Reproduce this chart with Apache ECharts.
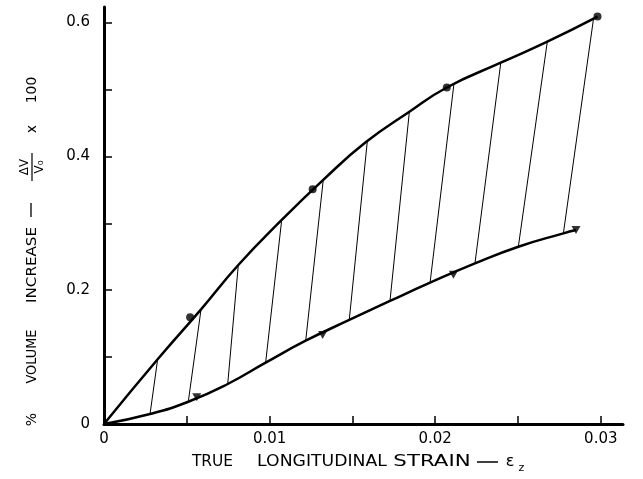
<!DOCTYPE html>
<html>
<head>
<meta charset="utf-8">
<script src="https://cdn.jsdelivr.net/npm/echarts@6/dist/echarts.min.js"></script>
<style>
  html, body { margin: 0; padding: 0; background: #fff; }
  #chart { width: 643px; height: 479px; }
</style>
</head>
<body>
<div id="chart"></div>
<script>
// Upper curve: % volume increase vs true longitudinal strain (circle series)
const upperCurveX = [0, 0.00324, 0.00586, 0.00811, 0.01073, 0.01324, 0.0158, 0.01844, 0.0207, 0.02396, 0.02677, 0.0298];
const upperCurveY = [0, 0.0967, 0.1714, 0.2377, 0.305, 0.365, 0.421, 0.4668, 0.503, 0.540, 0.5715, 0.609];
const circleX = [0.0052, 0.0126, 0.0207, 0.0298];
const circleY = [0.1595, 0.351, 0.503, 0.609];

// Lower curve (triangle series)
const lowerCurveX = [0, 0.00278, 0.00509, 0.00747, 0.00976, 0.01218, 0.01481, 0.01727, 0.01969, 0.0224, 0.02502, 0.02774, 0.0285];
const lowerCurveY = [0, 0.0149, 0.0333, 0.0598, 0.0917, 0.1245, 0.1555, 0.1839, 0.2112, 0.240, 0.265, 0.285, 0.290];
const triangleX = [0.0056, 0.0132, 0.0211, 0.0285];
const triangleY = [0.040, 0.133, 0.223, 0.290];

// Hatch lines joining the two curves
const hatchLowX = [0.00278, 0.00509, 0.00747, 0.00976, 0.01218, 0.01481, 0.01727, 0.01969, 0.0224, 0.02502, 0.02774];
const hatchLowY = [0.0149, 0.0333, 0.0598, 0.0917, 0.1245, 0.1555, 0.1839, 0.2112, 0.240, 0.265, 0.285];
const hatchHighX = [0.00324, 0.00586, 0.00811, 0.01073, 0.01324, 0.0159, 0.01844, 0.02113, 0.02396, 0.02677, 0.02955];
const hatchHighY = [0.0967, 0.1714, 0.2377, 0.305, 0.365, 0.4225, 0.4668, 0.508, 0.540, 0.5715, 0.604];

// Axis ticks and labels
const xTickValues = [0.005, 0.01, 0.015, 0.02, 0.025, 0.03];
const xLabelValues = [0, 0.01, 0.02, 0.03];
const xLabelText = ['0', '0.01', '0.02', '0.03'];
const yTickValues = [0.1, 0.2, 0.3, 0.4, 0.5, 0.6];
const yLabelValues = [0, 0.2, 0.4, 0.6];
const yLabelText = ['0', '0.2', '0.4', '0.6'];

const FONT = 'DejaVu Sans';
const pairs = (xs, ys) => xs.map((x, i) => [x, ys[i]]);
const labelFor = (vals, texts) => v => {
  const i = vals.findIndex(t => Math.abs(t - v) < 1e-9);
  return i >= 0 ? texts[i] : '';
};

const chart = echarts.init(document.getElementById('chart'), null, { renderer: 'canvas' });

const txt = (x, y, text, size, scaleX) => ({
  type: 'text', x: x, y: y, scaleX: scaleX || 1,
  style: {
    text: text, fontSize: size, fontFamily: FONT, fill: '#000',
    align: 'center', verticalAlign: 'middle'
  }
});

chart.setOption({
  animation: false,
  backgroundColor: '#fff',
  grid: { left: 104, top: 7, width: 519, height: 417 },
  xAxis: {
    type: 'value', min: 0, max: 0.03134,
    axisLine: { show: true, onZero: false, lineStyle: { color: '#000', width: 3 } },
    axisTick: { show: true, inside: true, length: 8, customValues: xTickValues, lineStyle: { color: '#000', width: 1.5 } },
    axisLabel: {
      customValues: xLabelValues, formatter: labelFor(xLabelValues, xLabelText),
      color: '#000', fontFamily: FONT, fontSize: 15, margin: 8
    },
    splitLine: { show: false }
  },
  yAxis: {
    type: 'value', min: 0, max: 0.6233,
    axisLine: { show: true, onZero: false, lineStyle: { color: '#000', width: 3 } },
    axisTick: { show: true, inside: true, length: 8, customValues: yTickValues, lineStyle: { color: '#000', width: 1.5 } },
    axisLabel: {
      customValues: yLabelValues, formatter: labelFor(yLabelValues, yLabelText),
      color: '#000', fontFamily: FONT, fontSize: 15, margin: 14
    },
    splitLine: { show: false }
  },
  series: [
    {
      type: 'lines', coordinateSystem: 'cartesian2d', silent: true, z: 1,
      lineStyle: { color: '#000', width: 1, opacity: 1 },
      data: hatchLowX.map((x, i) => ({ coords: [[x, hatchLowY[i]], [hatchHighX[i], hatchHighY[i]]] }))
    },
    {
      type: 'line', data: pairs(upperCurveX, upperCurveY), showSymbol: false, smooth: 0.5,
      lineStyle: { color: '#000', width: 2.5 }, z: 2
    },
    {
      type: 'line', data: pairs(lowerCurveX, lowerCurveY), showSymbol: false, smooth: 0.5,
      lineStyle: { color: '#000', width: 2.5 }, z: 2
    },
    {
      type: 'scatter', data: pairs(circleX, circleY), symbol: 'circle', symbolSize: 8,
      itemStyle: { color: '#000' }, z: 3
    },
    {
      type: 'scatter', data: pairs(triangleX, triangleY), symbol: 'triangle', symbolRotate: 180, symbolSize: [9, 8],
      itemStyle: { color: '#000' }, z: 3
    }
  ],
  graphic: [
    {
      type: 'group', x: 32, y: 430, rotation: Math.PI / 2,
      children: [
        txt(10.5, 0, '%', 14),
        txt(73.5, 0, 'VOLUME', 14, 0.92),
        txt(165, 0, 'INCREASE', 14, 1.08),
        { type: 'line', shape: { x1: 213, y1: -1, x2: 227, y2: -1 }, style: { stroke: '#000', lineWidth: 1.3 } },
        { type: 'line', shape: { x1: 249, y1: 0, x2: 277, y2: 0 }, style: { stroke: '#000', lineWidth: 1.2 } },
        txt(263, -7, 'ΔV', 12),
        txt(263, 8, 'V₀', 12),
        txt(301, 0, 'x', 14),
        txt(340, 0, '100', 14)
      ]
    },
    txt(212.5, 462, 'TRUE', 15, 1.03),
    txt(322, 462, 'LONGITUDINAL', 15, 1.15),
    txt(432, 462, 'STRAIN', 15, 1.42),
    { type: 'line', shape: { x1: 477, y1: 462, x2: 498, y2: 462 }, style: { stroke: '#000', lineWidth: 1.5 } },
    txt(510, 462, 'ε', 16),
    txt(521.5, 468, 'z', 11)
  ]
});
</script>
</body>
</html>
